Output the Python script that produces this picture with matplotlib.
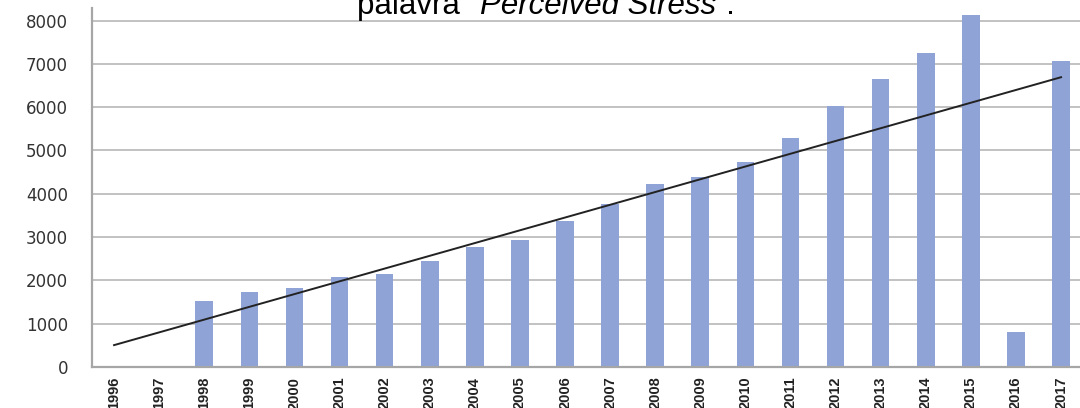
import matplotlib
matplotlib.use("Agg")
import matplotlib.pyplot as plt
import numpy as np

# yearly counts
years = ["1996", "1997", "1998", "1999", "2000", "2001", "2002", "2003", "2004",
         "2005", "2006", "2007", "2008", "2009", "2010", "2011", "2012", "2013",
         "2014", "2015", "2016", "2017"]
counts = [0, 0, 1520, 1730, 1835, 2075, 2150, 2440, 2780, 2935, 3360, 3765,
          4225, 4380, 4740, 5285, 6030, 6650, 7260, 8130, 815, 7060]
yticks = [0, 1000, 2000, 3000, 4000, 5000, 6000, 7000, 8000]
title_parts = [('palavra "', "normal"), ("Perceived Stress", "italic"), ('".', "normal")]

fig = plt.figure(figsize=(10.8, 4.08), dpi=100)
ax = fig.add_axes([91.5 / 1080, 41 / 408, 1 - 91.5 / 1080, 359 / 408])

x = np.arange(len(years))
ax.bar(x, counts, width=0.39, color="#8FA3D6", zorder=2)

# linear trend line
k, b = np.polyfit(x, counts, 1)
ax.plot([x[0], x[-1]], [k * x[0] + b, k * x[-1] + b], color="#222222", lw=1.4, zorder=3)

ax.set_xlim(-0.5, 21.42)
ax.set_ylim(0, 8290)
ax.set_yticks(yticks)
ax.set_xticks(x)
ax.set_xticklabels(years, rotation=90, family="Liberation Sans",
                   fontsize=10.5, fontweight="bold", color="#222222")
ax.set_yticklabels([str(v) for v in yticks], family="DejaVu Sans", fontsize=12, color="#333333")
ax.tick_params(axis="y", length=0, pad=17)
ax.tick_params(axis="x", length=0, pad=7)

ax.yaxis.grid(True, color="#BDBDBD", lw=1.3, zorder=0)
ax.set_axisbelow(True)
for s in ["top", "right"]:
    ax.spines[s].set_visible(False)
for s in ["left", "bottom"]:
    ax.spines[s].set_color("#A6A6A6")
    ax.spines[s].set_linewidth(1.6)

# title with italic middle part, laid out piece by piece
fig.canvas.draw()
r = fig.canvas.get_renderer()
px = 357
for txt, style in title_parts:
    t = fig.text(px / 1080, 1 - 14 / 408, txt, fontsize=22.5, family="Liberation Sans",
                 style=style, va="baseline", ha="left")
    px += t.get_window_extent(r).width

fig.savefig("out.png", dpi=100)
